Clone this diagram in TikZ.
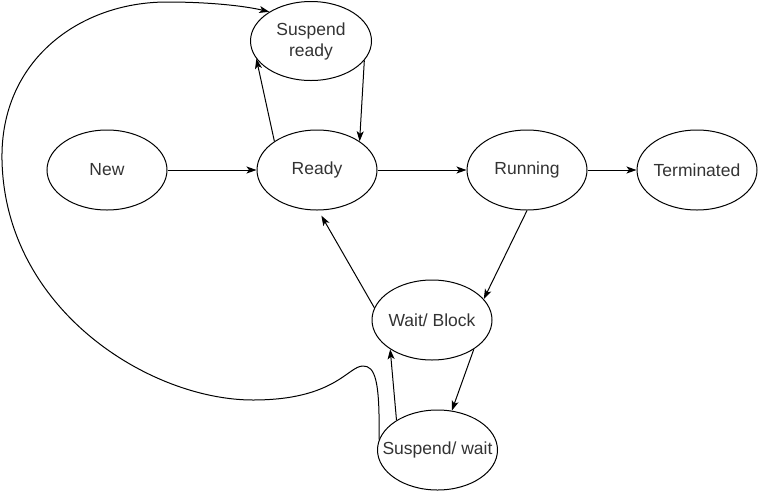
\documentclass[tikz,border=0pt]{standalone}
\usepackage{fontspec}
\setmainfont{Liberation Sans}
\usetikzlibrary{shapes.geometric,arrows.meta}
\begin{document}
\begin{tikzpicture}[x=1pt,y=-1pt,
  state/.style={draw,line width=1pt,ellipse,inner sep=0pt,minimum width=120pt,minimum height=80pt},
  conn/.style={line width=1pt,-{Stealth[length=10pt,width=7pt,inset=2.5pt]}},
  lbl/.style={font=\fontsize{17.5}{21}\selectfont,text=black!80,align=center}]
\useasboundingbox (0,0) rectangle (758,491);
\node[state,label={[lbl]center:New}] (new) at (107,170) {};
\node[state,label={[lbl]center:Ready}] (ready) at (317,170) {};
\node[state,label={[lbl]center:Running}] (running) at (527,170) {};
\node[state,label={[lbl]center:Terminated}] (term) at (697,170) {};
\node[state,minimum width=121pt,minimum height=79pt,label={[lbl]center:Suspend\\ready}] (sready) at (311,41) {};
\node[state,label={[lbl]center:Wait/ Block}] (wait) at (432,320) {};
\node[state,label={[lbl]center:Suspend/ wait}] (sw) at (437.5,450) {};

\draw[conn] (new.east) -- (ready.west);
\draw[conn] (ready.east) -- (running.west);
\draw[conn] (running.east) -- (term.west);
\draw[conn] (ready.146) -- (sready.198);
\draw[conn] (sready.-20) -- (ready.34);
\draw[conn] (running.south) -- (wait.22);
\draw[conn,shorten >=6pt] (wait.168) -- (ready.-88);
\draw[conn] (wait.-35) -- (sw.70);
\draw[conn] (sw.144) -- (wait.215);
\draw[conn] (sw.170) .. controls (380,380) and (375,366) .. (363,366)
  .. controls (348,366) and (335,400) .. (253,400)
  .. controls (150,400) and (5,310) .. (2,160)
  .. controls (0,60) and (80,2) .. (167,2)
  .. controls (210,2) and (245,6) .. (sready.145);
\end{tikzpicture}
\end{document}
